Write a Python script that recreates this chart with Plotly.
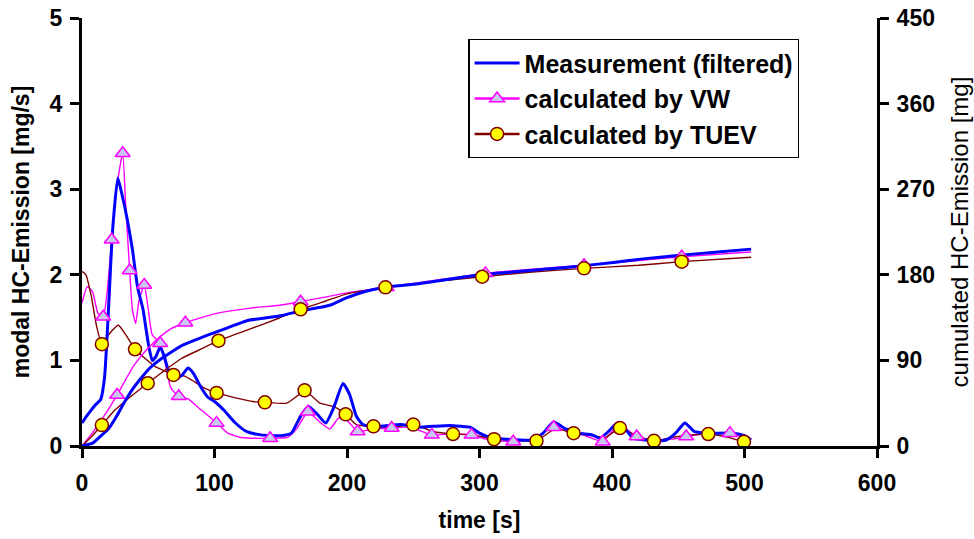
import plotly.graph_objects as go

# ---------------- data ----------------
# modal emission [mg/s] (left axis)
meas_t = [0, 5, 10, 14, 17, 20, 23, 27, 30, 34, 38, 42, 46, 50, 53, 56, 59, 62, 66, 70, 75, 80, 84, 90, 95,
          100, 107, 115, 124, 135, 150, 158, 165, 171, 177, 184, 190, 197, 202, 207, 212, 225, 240, 255, 265,
          278, 286, 293, 300, 308, 320, 340, 348, 356, 365, 375, 385, 391, 398, 404, 410, 416, 425, 441, 448,
          455, 462, 470, 491, 500, 505]
meas_modal = [0.27, 0.38, 0.48, 0.54, 0.8, 1.6, 2.5, 3.13, 2.95, 2.66, 2.3, 1.85, 1.6, 1.2, 1.0, 1.05, 1.16, 1.05,
              0.85, 0.8, 0.82, 0.91, 0.85, 0.68, 0.57, 0.52, 0.42, 0.28, 0.17, 0.13, 0.12, 0.15, 0.35, 0.46, 0.38,
              0.27, 0.45, 0.73, 0.6, 0.35, 0.25, 0.23, 0.25, 0.22, 0.23, 0.24, 0.23, 0.22, 0.15, 0.1, 0.08, 0.07,
              0.15, 0.28, 0.2, 0.15, 0.13, 0.09, 0.18, 0.27, 0.2, 0.09, 0.07, 0.07, 0.15, 0.27, 0.17, 0.15, 0.15,
              0.12, 0.07]

vw_t = [0, 4, 8, 12, 16, 19, 22.4, 26, 30.7, 33, 36, 38, 40.5, 43, 47, 50, 53, 59, 63, 67, 73, 80, 90, 101.6,
        110, 120, 142, 155, 162, 170.5, 178, 187, 194, 200, 208, 220, 233.7, 245, 255, 264, 280, 294, 305,
        325.5, 340, 356, 370, 380, 393, 405, 418.6, 430, 445, 456, 470, 489, 500]
vw_modal = [1.67, 1.86, 1.8, 1.55, 1.51, 1.8, 2.41, 3.0, 3.42, 2.8, 2.05, 1.6, 1.43, 1.7, 1.88, 1.6, 1.3, 1.2,
            0.95, 0.68, 0.58, 0.55, 0.42, 0.27, 0.15, 0.1, 0.09, 0.1, 0.2, 0.4, 0.3, 0.2, 0.33, 0.3, 0.17, 0.2,
            0.21, 0.22, 0.18, 0.13, 0.14, 0.13, 0.08, 0.05, 0.08, 0.22, 0.15, 0.12, 0.05, 0.25, 0.11, 0.07, 0.08,
            0.11, 0.14, 0.15, 0.1]
vw_mark_t = [16, 22.4, 30.7, 36, 47, 59, 73, 101.6, 142, 170.5, 208, 233.7, 264, 294, 325.5, 356, 393, 418.6,
             456, 489]
vw_mark_modal = [1.51, 2.41, 3.42, 2.05, 1.88, 1.2, 0.58, 0.27, 0.09, 0.4, 0.17, 0.21, 0.13, 0.13, 0.05, 0.22,
                 0.05, 0.11, 0.11, 0.15]

tuev_t = [0, 3, 7, 11, 15, 20, 27.4, 33, 40, 47, 55, 62, 69, 77, 85, 92, 101.6, 116.7, 129, 138, 154.5, 162,
          168, 179.6, 190, 199, 207, 220, 235, 250, 265, 280, 295, 311, 325, 343, 357, 371, 385, 395, 406, 418,
          431.7, 445, 460, 472.7, 485, 499.6]
tuev_modal = [2.04, 2.0, 1.75, 1.4, 1.19, 1.3, 1.41, 1.3, 1.13, 1.03, 0.93, 0.88, 0.83, 0.82, 0.75, 0.68, 0.62,
              0.56, 0.52, 0.51, 0.5, 0.58, 0.65, 0.5, 0.46, 0.37, 0.25, 0.23, 0.22, 0.25, 0.17, 0.14, 0.13, 0.08,
              0.07, 0.06, 0.2, 0.15, 0.12, 0.1, 0.21, 0.12, 0.06, 0.1, 0.13, 0.14, 0.11, 0.05]
tuev_mark_t = [15, 40, 69, 101.6, 138, 168, 199, 220, 250, 280, 311, 343, 371, 406, 431.7, 472.7, 499.6]
tuev_mark_modal = [1.19, 1.13, 0.83, 0.62, 0.51, 0.65, 0.37, 0.23, 0.25, 0.14, 0.08, 0.06, 0.15, 0.21, 0.06,
                   0.14, 0.05]

# cumulated emission [mg] (right axis)
meas_cum_t = [0, 8, 13.6, 20, 26, 32, 38.6, 45, 51, 60, 76, 90, 101.6, 115, 125, 150, 165, 187, 200, 215, 229,
              250, 275, 300, 325, 351, 375, 401, 425, 451, 480, 505]
meas_cum = [0, 3, 9.8, 18, 31, 46, 60.6, 72, 81.7, 92, 106, 114, 120, 127, 132, 137, 142, 148, 156, 163, 167,
            170, 175, 180, 183, 186, 189, 193, 197, 200.5, 204, 207]

vw_cum_t = [0, 8, 13.6, 26.5, 38.6, 50, 59, 68, 78, 90, 101.6, 127, 149, 165, 200, 230, 260, 304.5, 340, 378.9,
            420, 452.6, 505]
vw_cum = [0, 14, 25, 53.6, 83.4, 103, 115, 124, 129.6, 135, 139.5, 145, 148, 151.7, 161, 166.8, 173, 181.5,
          186, 190, 195, 199, 204]
vw_cum_mark_t = [26.5, 78, 165, 230, 304.5, 378.9, 452.6]
vw_cum_mark = [53.6, 129.6, 151.7, 166.8, 181.5, 190, 199]

tuev_cum_t = [0, 8, 15, 25, 35, 49.6, 60, 75, 90, 103, 125, 149, 165, 185, 200, 229, 260, 302, 340, 378.9, 420,
              452.6, 505]
tuev_cum = [0, 11, 22, 38, 50, 66, 77, 92, 102, 110.7, 122, 134.6, 143.7, 153, 160, 166.8, 172, 178, 183,
            186.8, 190, 193.8, 198.4]
tuev_cum_mark_t = [15, 49.6, 103, 165, 229, 302, 378.9, 452.6]
tuev_cum_mark = [22, 66, 110.7, 143.7, 166.8, 178, 186.8, 193.8]

series_names = ["Measurement (filtered)", "calculated by VW", "calculated by TUEV"]

# ---------------- style ----------------
BLUE = "#0000FF"
MAG = "#FF00FF"
BROWN = "#800000"
TRI_FILL = "#C8C8F0"
CIR_FILL = "#FFFF00"
FONT = "Liberation Sans, Arial, sans-serif"

fig = go.Figure()

def line(x, y, color, width, yaxis):
    fig.add_trace(go.Scatter(x=x, y=y, mode="lines", yaxis=yaxis, showlegend=False, hoverinfo="skip",
                             line=dict(color=color, width=width, shape="spline", smoothing=0.5)))

def marks(x, y, symbol, fill, edge, size, yaxis):
    fig.add_trace(go.Scatter(x=x, y=y, mode="markers", yaxis=yaxis, showlegend=False,
                             marker=dict(symbol=symbol, color=fill, size=size,
                                         line=dict(color=edge, width=1.5))))

# thin lines first
line(vw_cum_t, vw_cum, MAG, 1.4, "y2")
line(tuev_cum_t, tuev_cum, BROWN, 1.4, "y2")
line(vw_t, vw_modal, MAG, 1.4, "y")
line(tuev_t, tuev_modal, BROWN, 1.4, "y")
# thick measurement
line(meas_cum_t, meas_cum, BLUE, 3, "y2")
line(meas_t, meas_modal, BLUE, 3, "y")
# markers
marks(vw_cum_mark_t, vw_cum_mark, "triangle-up", TRI_FILL, MAG, 13, "y2")
marks(tuev_cum_mark_t, tuev_cum_mark, "circle", CIR_FILL, BROWN, 13, "y2")
marks(vw_mark_t, vw_mark_modal, "triangle-up", TRI_FILL, MAG, 13, "y")
marks(tuev_mark_t, tuev_mark_modal, "circle", CIR_FILL, BROWN, 13, "y")

# legend entries
fig.add_trace(go.Scatter(x=[None], y=[None], mode="lines", name=series_names[0],
                         line=dict(color=BLUE, width=3)))
fig.add_trace(go.Scatter(x=[None], y=[None], mode="lines+markers", name=series_names[1],
                         line=dict(color=MAG, width=2.5),
                         marker=dict(symbol="triangle-up", color=TRI_FILL, size=13, line=dict(color=MAG, width=1.5))))
fig.add_trace(go.Scatter(x=[None], y=[None], mode="lines+markers", name=series_names[2],
                         line=dict(color=BROWN, width=2.5),
                         marker=dict(symbol="circle", color=CIR_FILL, size=13, line=dict(color=BROWN, width=1.5))))

axis_common = dict(showgrid=False, zeroline=False, showline=True, linecolor="black", linewidth=3,
                   ticks="outside", ticklen=9, tickwidth=2.5, tickcolor="black", automargin=False,
                   ticklabeloverflow="allow",
                   tickfont=dict(family=FONT, size=23, color="black", weight="bold"))

fig.update_layout(
    width=974, height=539,
    margin=dict(l=82, r=97, t=18, b=93),
    paper_bgcolor="white", plot_bgcolor="white",
    font=dict(family=FONT, color="black"),
    xaxis=dict(range=[0, 600], dtick=100, tick0=0, ticklabelstandoff=5,
               title=dict(text="time [s]", font=dict(family=FONT, size=23, weight="bold"), standoff=18),
               **axis_common),
    yaxis=dict(range=[0, 5], dtick=1, tick0=0, ticklabelstandoff=3,
               title=dict(text="modal HC-Emission [mg/s]", font=dict(family=FONT, size=23, weight="bold"),
                          standoff=14),
               **axis_common),
    yaxis2=dict(range=[0, 450], dtick=90, tick0=0, overlaying="y", side="right", ticklabelstandoff=3,
                title=dict(text="cumulated HC-Emission [mg]", font=dict(family=FONT, size=24), standoff=18),
                **axis_common),
    legend=dict(x=0.486, y=0.951, xanchor="left", yanchor="top", bgcolor="white",
                bordercolor="black", borderwidth=1.2,
                font=dict(family=FONT, size=25, color="black", weight="bold"),
                itemwidth=45, tracegroupgap=0, entrywidth=348),
    showlegend=True,
)

# remove the browser's default 8px body margin so the figure sits at the page origin
fig.write_html("out.html", config={"displayModeBar": False},
               post_script="document.body.style.margin='0';")
